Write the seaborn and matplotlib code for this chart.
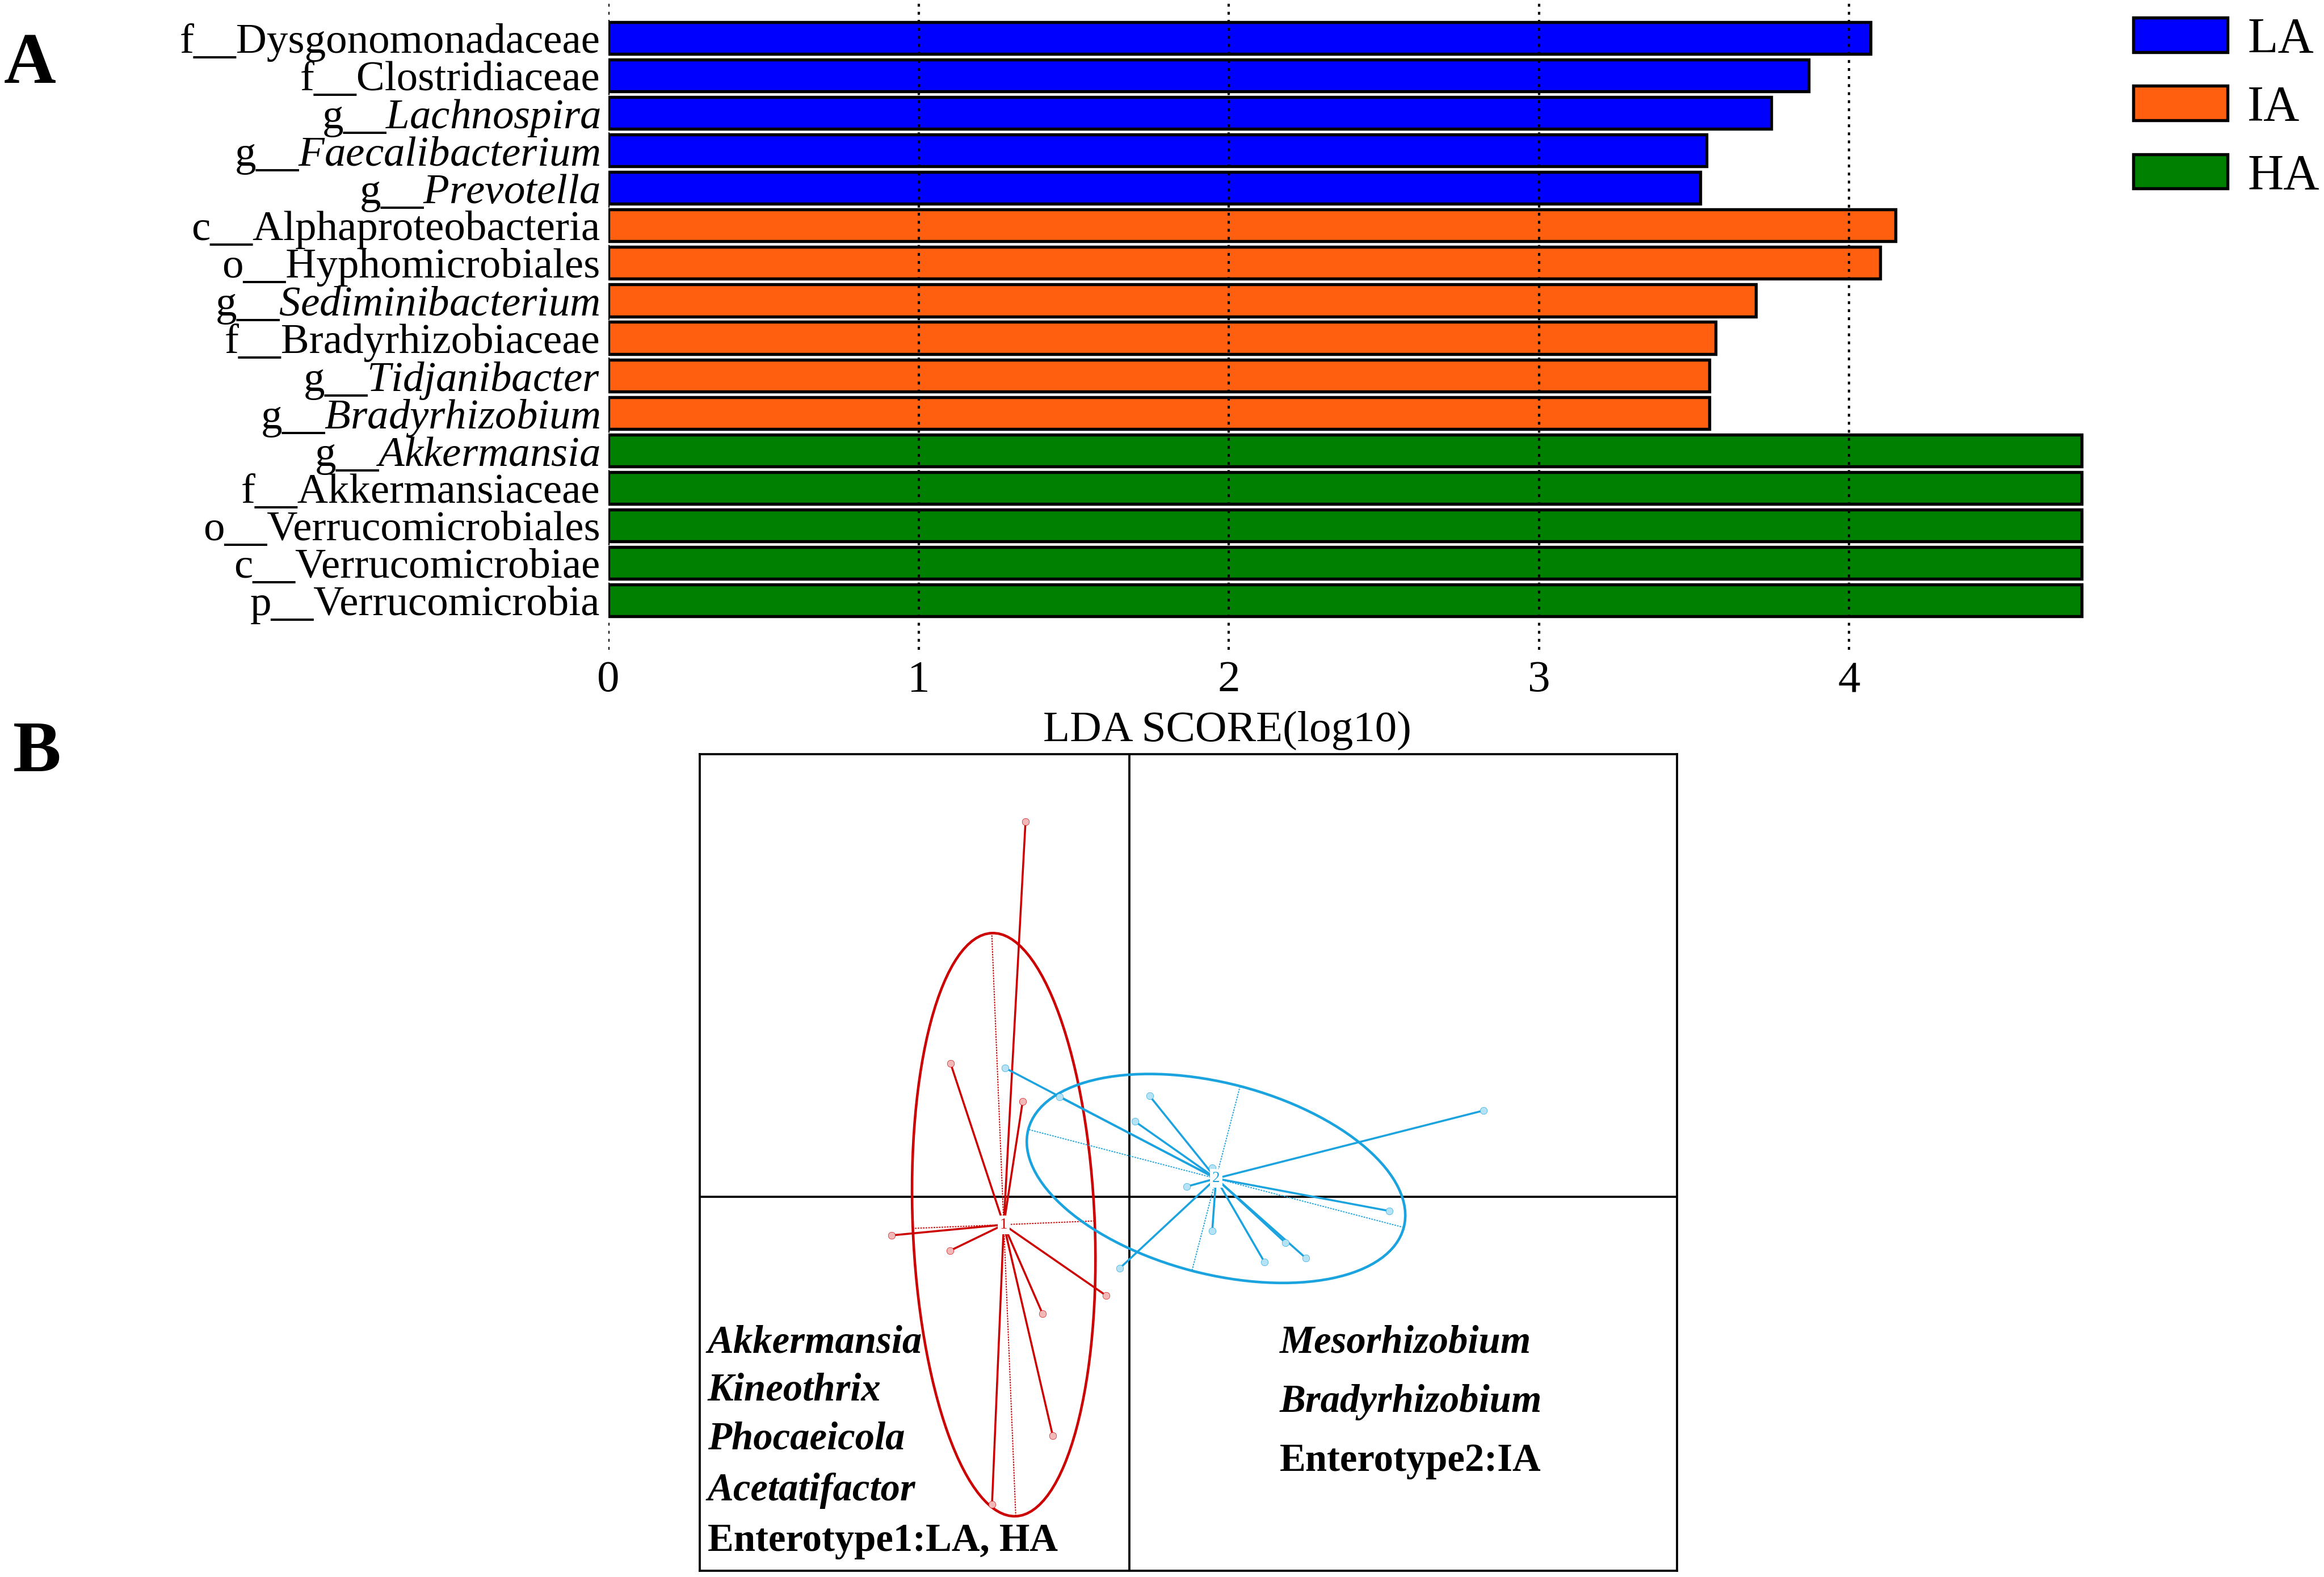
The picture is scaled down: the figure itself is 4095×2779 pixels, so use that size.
import numpy as np
import pandas as pd
import matplotlib
matplotlib.use("Agg")
import matplotlib.pyplot as plt
from matplotlib.patches import Patch, Ellipse
import seaborn as sns

# ---------------- Data: panel A (LEfSe) ----------------
taxa = [
    r"f__Dysgonomonadaceae",
    r"f__Clostridiaceae",
    r"g__$\mathit{Lachnospira}$",
    r"g__$\mathit{Faecalibacterium}$",
    r"g__$\mathit{Prevotella}$",
    r"c__Alphaproteobacteria",
    r"o__Hyphomicrobiales",
    r"g__$\mathit{Sediminibacterium}$",
    r"f__Bradyrhizobiaceae",
    r"g__$\mathit{Tidjanibacter}$",
    r"g__$\mathit{Bradyrhizobium}$",
    r"g__$\mathit{Akkermansia}$",
    r"f__Akkermansiaceae",
    r"o__Verrucomicrobiales",
    r"c__Verrucomicrobiae",
    r"p__Verrucomicrobia",
]
lda_scores = [4.07, 3.87, 3.75, 3.54, 3.52,
              4.15, 4.10, 3.70, 3.57, 3.55, 3.55,
              4.75, 4.75, 4.75, 4.75, 4.75]
groups = ["LA"] * 5 + ["IA"] * 6 + ["HA"] * 5
group_order = ["LA", "IA", "HA"]
group_colors = {"LA": "#0000FF", "IA": "#FF5F0F", "HA": "#008000"}
x_ticks = [0, 1, 2, 3, 4]

# ---------------- Data: panel B (enterotypes) ----------------
et1_x = [-1.83, -3.15, -1.88, -4.19, -3.16, -0.41, -1.53, -1.35, -2.42]
et1_y = [6.61, 2.35, 1.68, -0.68, -0.95, -1.74, -2.06, -4.21, -5.42]
et2_x = [-2.19, -1.23, 0.355, 0.095, 6.24, 1.01, 1.46, 1.46, 2.75, 2.38, 3.11, 4.58, -0.17]
et2_y = [2.27, 1.76, 1.78, 1.33, 1.52, 0.18, 0.51, -0.60, -0.81, -1.15, -1.08, -0.25, -1.26]
et1_label = "1"
et2_label = "2"
et1_genera = ["Akkermansia", "Kineothrix", "Phocaeicola", "Acetatifactor"]
et1_title = "Enterotype1:LA, HA"
et2_genera = ["Mesorhizobium", "Bradyrhizobium"]
et2_title = "Enterotype2:IA"
red = "#CC0000"
blue = "#1BA3DF"

# ---------------- Style ----------------
sns.set_theme(style="white")
plt.rcParams["font.family"] = ["Liberation Serif", "DejaVu Serif"]
plt.rcParams["mathtext.fontset"] = "custom"
plt.rcParams["mathtext.rm"] = "Liberation Serif"
plt.rcParams["mathtext.it"] = "Liberation Serif:italic"
plt.rcParams["mathtext.bf"] = "Liberation Serif:bold"
for key in ["text.color", "axes.labelcolor", "xtick.color", "ytick.color"]:
    plt.rcParams[key] = "black"

W, H = 4095, 2779
fig = plt.figure(figsize=(W / 300, H / 300), dpi=300)

# ---------------- Panel A ----------------
axA = fig.add_axes([1072 / W, 1 - 1145 / H, 4.8 * 546.5 / W, 1139 / H])
df = pd.DataFrame({"taxon": taxa, "score": lda_scores, "group": groups})
sns.barplot(data=df, x="score", y="taxon", hue="group", hue_order=group_order,
            palette=group_colors, dodge=False, width=0.85, edgecolor="black",
            linewidth=1.3, legend=False, ax=axA, orient="h", errorbar=None,
            saturation=1)
axA.set_xlim(0, 4.8)
axA.set_ylim(16.317, -0.923)
axA.set_xticks(x_ticks)
axA.set_xticklabels([str(t) for t in x_ticks], fontsize=19)
axA.tick_params(axis="x", length=0, pad=4.5, colors="black")
axA.tick_params(axis="y", length=0, pad=3.5, labelsize=18, colors="black")
for s in axA.spines.values():
    s.set_visible(False)
axA.set_axisbelow(False)
axA.xaxis.grid(True, color="black", linestyle=(0, (1.2, 2.2)), linewidth=1.0)
axA.yaxis.grid(False)
axA.set_ylabel("")
axA.set_xlabel("LDA SCORE(log10)", fontsize=18.5, color="black")
axA.xaxis.set_label_coords((2162 - 1072) / (4.8 * 546.5), -(1300 - 1145) / 1139 - 0.005)
axA.xaxis.label.set_va("baseline")

handles = [Patch(facecolor=group_colors[g], edgecolor="black", linewidth=1.3, label=g)
           for g in group_order]
fig.legend(handles=handles, loc="upper left", bbox_to_anchor=(3759 / W, 1 - 30 / H),
           frameon=False, fontsize=21, handlelength=1.9, handleheight=0.69,
           handletextpad=0.4, labelspacing=0.45, borderpad=0, borderaxespad=0,
           labelcolor="black")

fig.text(7 / W, 1 - 146 / H, "A", fontsize=30.5, fontweight="bold", va="baseline",
         ha="left", color="black")
fig.text(23 / W, 1 - 1359 / H, "B", fontsize=30.5, fontweight="bold", va="baseline",
         ha="left", color="black")

# ---------------- Panel B ----------------
axB = fig.add_axes([1233 / W, 1 - 2768 / H, (2955 - 1233) / W, (2768 - 1329) / H])
axB.set_xlim(-7.57, 9.65)
axB.set_ylim(-6.59, 7.80)
axB.set_xticks([])
axB.set_yticks([])
for s in axB.spines.values():
    s.set_visible(True)
    s.set_color("black")
    s.set_linewidth(0.9)
axB.axhline(0, color="black", lw=0.9, zorder=1)
axB.axvline(0, color="black", lw=0.9, zorder=1)


def draw_class(ax, xs, ys, col, label, light):
    xs = np.asarray(xs, float)
    ys = np.asarray(ys, float)
    cx, cy = xs.mean(), ys.mean()
    cov = np.cov(np.vstack([xs, ys]), bias=True)
    vals, vecs = np.linalg.eigh(cov)
    order = np.argsort(vals)[::-1]
    vals, vecs = vals[order], vecs[:, order]
    a, b = 1.5 * np.sqrt(vals)
    ang = np.degrees(np.arctan2(vecs[1, 0], vecs[0, 0]))
    ax.add_patch(Ellipse((cx, cy), 2 * a, 2 * b, angle=ang, fill=False,
                         edgecolor=col, lw=1.1, zorder=3))
    for k, r in ((0, a), (1, b)):
        v = vecs[:, k] * r
        ax.plot([cx - v[0], cx + v[0]], [cy - v[1], cy + v[1]], color=col,
                lw=0.45, linestyle=(0, (1.5, 1.0)), zorder=3)
    for x, y in zip(xs, ys):
        ax.plot([cx, x], [cy, y], color=col, lw=0.85, zorder=4)
    pts = pd.DataFrame({"x": xs, "y": ys})
    sns.scatterplot(data=pts, x="x", y="y", ax=ax, s=9, color=light,
                    edgecolor=col, linewidth=0.15, zorder=5, legend=False)
    ax.text(cx, cy, label, ha="center", va="center", fontsize=6.5, color=col,
            zorder=6, bbox=dict(boxstyle="square,pad=0.15", fc="white", ec="none"))


draw_class(axB, et1_x, et1_y, red, et1_label, "#F2B8B8")
draw_class(axB, et2_x, et2_y, blue, et2_label, "#B5E2F5")
axB.set_xlabel("")
axB.set_ylabel("")

y_left = [-2.57, -3.41, -4.27, -5.18]
for g, yy in zip(et1_genera, y_left):
    axB.text(-7.43, yy, g, fontsize=16.5, fontweight="bold", fontstyle="italic",
             ha="left", va="center", zorder=7, color="black")
axB.text(-7.43, -6.07, et1_title, fontsize=16.5, fontweight="bold",
         ha="left", va="center", zorder=7, color="black")
y_right = [-2.57, -3.62]
for g, yy in zip(et2_genera, y_right):
    axB.text(2.65, yy, g, fontsize=16.5, fontweight="bold", fontstyle="italic",
             ha="left", va="center", zorder=7, color="black")
axB.text(2.65, -4.66, et2_title, fontsize=16.5, fontweight="bold",
         ha="left", va="center", zorder=7, color="black")

fig.savefig("out.png", dpi=300)
